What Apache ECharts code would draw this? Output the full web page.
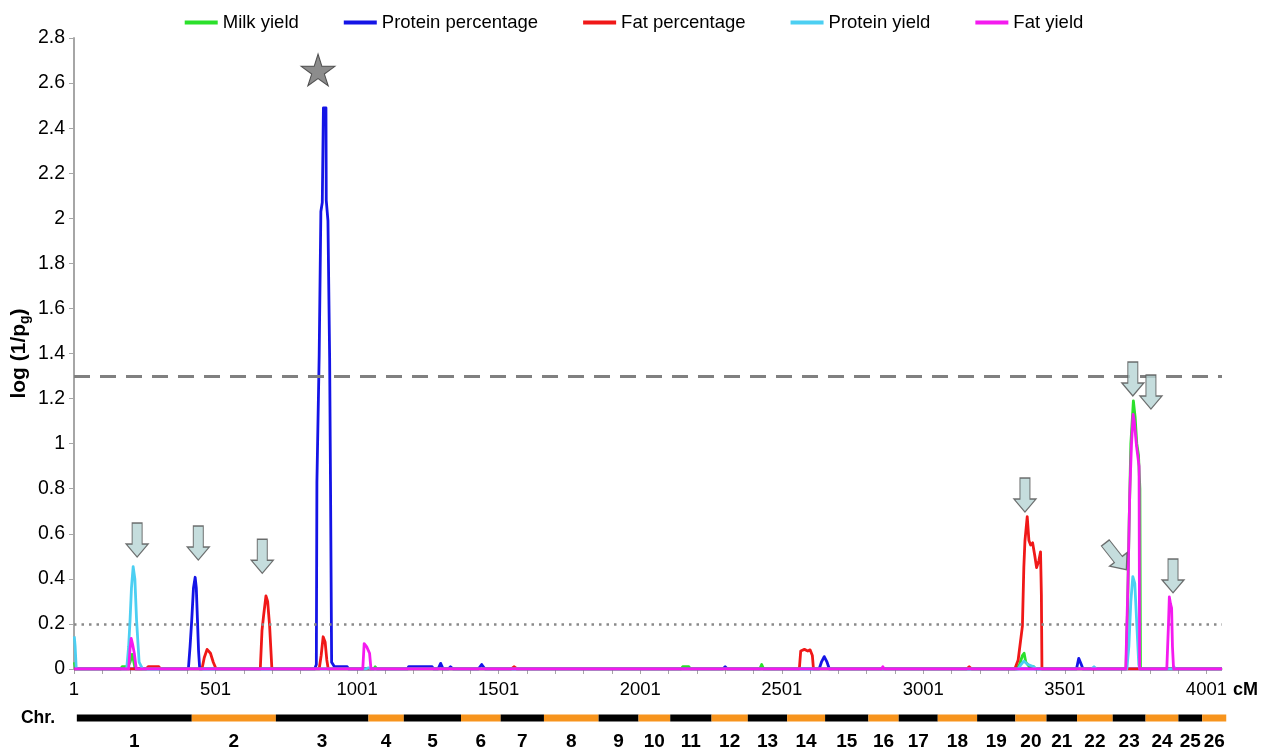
<!DOCTYPE html>
<html>
<head>
<meta charset="utf-8">
<title>log(1/pg) scan</title>
<script src="https://cdn.jsdelivr.net/npm/echarts@6/dist/echarts.min.js"></script>
<style>
    html, body { margin: 0; padding: 0; background: #fff; }
    #main { width: 1268px; height: 751px; }
</style>
</head>
<body>
<div id="main"></div>
<script>
// series names, legend order
var traitNames = ['Milk yield', 'Protein percentage', 'Fat percentage', 'Protein yield', 'Fat yield'];

// [cM, log(1/pg)]
var milkYield = [[1, 0.03], [6, 0], [165, 0], [170, 0.01], [181, 0.01], [190, 0.01], [198, 0.03], [205, 0.065], [210, 0.04], [216, 0],
    [1058, 0], [1064, 0.01], [1070, 0], [2144, 0], [2150, 0.01], [2172, 0.01], [2178, 0], [2422, 0], [2429, 0.02], [2436, 0],
    [3330, 0], [3340, 0.02], [3350, 0.06], [3356, 0.07], [3362, 0.03], [3375, 0.01], [3390, 0.01], [3395, 0],
    [3716, 0], [3722, 0.3], [3727, 0.65], [3733, 1.0], [3742, 1.19], [3748, 1.12], [3754, 1.0], [3760, 0.95], [3765, 0.8], [3767, 0], [4055, 0]];

var proteinPct = [[1, 0], [404, 0], [410, 0.1], [416, 0.22], [422, 0.36], [428, 0.407], [432, 0.36], [436, 0.22], [440, 0.08], [444, 0],
    [850, 0], [856, 0.02], [858, 0.83], [866, 1.39], [872, 2.03], [877, 2.07], [881, 2.49], [890, 2.49], [891, 2.08], [897, 1.99],
    [903, 1.38], [906, 0.83], [910, 0.03], [920, 0.01], [965, 0.01], [970, 0],
    [1178, 0], [1182, 0.01], [1265, 0.01], [1270, 0], [1286, 0], [1295, 0.025], [1304, 0], [1322, 0], [1330, 0.01], [1339, 0],
    [1428, 0], [1440, 0.02], [1452, 0], [2292, 0], [2300, 0.01], [2308, 0],
    [2632, 0], [2640, 0.03], [2650, 0.055], [2660, 0.03], [2668, 0], [3541, 0], [3549, 0.047], [3558, 0.02], [3564, 0], [4055, 0]];

var fatPct = [[1, 0], [255, 0], [262, 0.01], [300, 0.01], [306, 0], [452, 0], [460, 0.05], [470, 0.087], [482, 0.07], [492, 0.03], [502, 0],
    [658, 0], [664, 0.17], [670, 0.24], [678, 0.324], [684, 0.3], [691, 0.19], [699, 0],
    [866, 0], [873, 0.06], [880, 0.143], [887, 0.12], [893, 0.04], [898, 0], [1544, 0], [1554, 0.01], [1565, 0],
    [2562, 0], [2567, 0.08], [2580, 0.087], [2592, 0.08], [2600, 0.085], [2608, 0.06], [2612, 0], [3153, 0], [3162, 0.01], [3171, 0],
    [3323, 0], [3335, 0.04], [3350, 0.19], [3355, 0.45], [3359, 0.57], [3367, 0.676], [3373, 0.57], [3379, 0.55], [3386, 0.56],
    [3394, 0.5], [3400, 0.45], [3408, 0.48], [3414, 0.52], [3417, 0.33], [3419, 0], [4055, 0]];

var proteinYield = [[1, 0.145], [4, 0.1], [8, 0], [186, 0], [193, 0.1], [198, 0.217], [203, 0.36], [209, 0.454], [215, 0.4], [221, 0.217], [230, 0.03], [242, 0],
    [1030, 0], [1040, 0.005], [1050, 0], [3335, 0], [3345, 0.02], [3355, 0.035], [3370, 0.02], [3390, 0.01], [3400, 0],
    [3594, 0], [3603, 0.01], [3612, 0], [3719, 0], [3726, 0.1], [3733, 0.3], [3740, 0.41], [3747, 0.38], [3754, 0.2], [3761, 0.02], [3765, 0],
    [3880, 0], [3885, 0.01], [3890, 0], [4055, 0]];

var fatYield = [[1, 0], [193, 0], [198, 0.09], [202, 0.136], [207, 0.11], [213, 0.07], [220, 0],
    [1020, 0], [1025, 0.113], [1034, 0.098], [1044, 0.07], [1049, 0], [2852, 0], [2857, 0.01], [2862, 0],
    [3715, 0], [3723, 0.39], [3729, 0.77], [3735, 0.99], [3741, 1.13], [3745, 1.10], [3753, 0.99], [3757, 0.95], [3762, 0.9], [3764, 0],
    [3860, 0], [3866, 0.2], [3869, 0.32], [3873, 0.29], [3877, 0.27], [3880, 0.1], [3884, 0], [4055, 0]];

// significance thresholds
var thresholds = [1.3, 0.2];

// annotations (centre of each arrow / star, in data units)
var arrowsDown = [[223, 0.572], [439, 0.559], [665, 0.50], [3359, 0.772], [3740, 1.287], [3804, 1.229], [3882, 0.413]];
var arrowsTilted = [[3680, 0.50]];
var starMark = [[862, 2.658]];

// axis ticks
var xTickLabels = ['1', '501', '1001', '1501', '2001', '2501', '3001', '3501', '4001'];
var yMax = 2.8;

// chromosome map below the axis
var chrNames = ['1', '2', '3', '4', '5', '6', '7', '8', '9', '10', '11', '12', '13', '14', '15', '16', '17', '18', '19', '20', '21', '22', '23', '24', '25', '26'];
var chrBounds = [10, 416, 713, 1040, 1165, 1367, 1507, 1660, 1853, 1994, 2106, 2252, 2380, 2519, 2653, 2806, 2913, 3051, 3190, 3325, 3435, 3543, 3669, 3785, 3901, 3985, 4070];

var colors = ['#2BE02B', '#1414E6', '#F01818', '#4CCFF2', '#F41AEF'];
var FONT = '"Liberation Sans", Arial, sans-serif';
var arrowPath = 'path://M6,0H16V21H22L11,34L0,21H6Z';
var starPath = 'path://M50,0L61,35L98,35L68,57L79,91L50,70L21,91L32,57L2,35L39,35Z';

var myChart = echarts.init(document.getElementById('main'));

function lineSeries(name, data, i) {
    return {
        name: name,
        type: 'line',
        data: data,
        symbol: 'none',
        color: colors[i],
        lineStyle: { width: 2.8, color: colors[i], join: 'round' },
        z: 2 + i
    };
}

var series = [
    lineSeries(traitNames[0], milkYield, 0),
    lineSeries(traitNames[1], proteinPct, 1),
    lineSeries(traitNames[2], fatPct, 2),
    lineSeries(traitNames[3], proteinYield, 3),
    lineSeries(traitNames[4], fatYield, 4)
];

series[0].markLine = {
    silent: true,
    symbol: 'none',
    label: { show: false },
    data: [
        { yAxis: thresholds[0], lineStyle: { color: '#808080', width: 3, type: [16, 10] } },
        { yAxis: thresholds[1], lineStyle: { color: '#8a8a8a', width: 2.5, type: [2.5, 5] } }
    ]
};

series.push({
    type: 'scatter',
    data: arrowsDown,
    symbol: arrowPath,
    symbolSize: [22, 34],
    silent: true,
    itemStyle: { color: '#B6D4D5', borderColor: '#4d4d4d', borderWidth: 1.2 },
    z: 10
});
series.push({
    type: 'scatter',
    data: arrowsTilted,
    symbol: arrowPath,
    symbolSize: [22, 34],
    symbolRotate: 38,
    silent: true,
    itemStyle: { color: '#B6D4D5', borderColor: '#4d4d4d', borderWidth: 1.2 },
    z: 10
});
series.push({
    type: 'scatter',
    data: starMark,
    symbol: starPath,
    symbolSize: [34, 32],
    silent: true,
    itemStyle: { color: '#6f6f6f', borderColor: '#333', borderWidth: 1 },
    z: 10
});

// chromosome bar
series.push({
    type: 'custom',
    xAxisIndex: 1,
    yAxisIndex: 1,
    clip: false,
    silent: true,
    encode: { x: [0, 1], y: 2 },
    data: chrNames.map(function (n, i) { return [chrBounds[i], chrBounds[i + 1], 0]; }),
    renderItem: function (params, api) {
        var a = api.coord([api.value(0), 0]);
        var b = api.coord([api.value(1), 0]);
        var h = 7;
        return {
            type: 'group',
            children: [{
                type: 'rect',
                shape: { x: a[0], y: a[1] - h / 2, width: b[0] - a[0], height: h },
                style: { fill: params.dataIndex % 2 ? '#F7941D' : '#000' }
            }, {
                type: 'text',
                x: (a[0] + b[0]) / 2,
                y: a[1] + 24,
                style: {
                    text: chrNames[params.dataIndex],
                    align: 'center',
                    verticalAlign: 'middle',
                    font: 'bold 19px ' + FONT,
                    fill: '#000'
                }
            }]
        };
    }
});

var option = {
    animation: false,
    backgroundColor: '#fff',
    textStyle: { fontFamily: FONT },
    legend: {
        data: traitNames,
        top: 8,
        left: 'center',
        icon: 'rect',
        itemWidth: 33,
        itemHeight: 4,
        itemGap: 45,
        textStyle: { fontSize: 18.5, color: '#000', fontFamily: FONT }
    },
    grid: [
        { left: 74, right: 46, top: 38, bottom: 82, containLabel: false, outerBoundsMode: 'none' },
        { left: 74, right: 46, top: 712, height: 12, containLabel: false, outerBoundsMode: 'none' }
    ],
    xAxis: [{
        type: 'value',
        min: 0,
        max: 4055,
        interval: 100,
        name: 'cM',
        nameLocation: 'end',
        nameGap: 10,
        nameTextStyle: { fontWeight: 'bold', fontSize: 18, color: '#000', verticalAlign: 'top', padding: [12, 0, 0, 0] },
        axisLine: { lineStyle: { color: '#A6A6A6', width: 1.5 } },
        axisTick: { length: 5, lineStyle: { color: '#A6A6A6' } },
        splitLine: { show: false },
        axisLabel: {
            fontSize: 18.5,
            color: '#000',
            margin: 11,
            showMaxLabel: false,
            formatter: function (v) {
                return v % 500 === 0 ? xTickLabels[v / 500] : '';
            }
        }
    }, {
        gridIndex: 1,
        type: 'value',
        min: 0,
        max: 4055,
        show: false
    }],
    yAxis: [{
        type: 'value',
        min: 0,
        max: yMax,
        interval: 0.2,
        name: '{a|log (1/p}{b|g}{a|)}',
        nameLocation: 'middle',
        nameGap: 42,
        nameMoveOverlap: false,
        nameTextStyle: {
            rich: {
                a: { fontWeight: 'bold', fontSize: 21, color: '#000', fontFamily: FONT },
                b: { fontWeight: 'bold', fontSize: 14, color: '#000', fontFamily: FONT, padding: [11, 0, 0, 0] }
            }
        },
        axisLine: { show: true, lineStyle: { color: '#A6A6A6', width: 2 } },
        axisTick: { show: true, length: 5, lineStyle: { color: '#A6A6A6' } },
        splitLine: { show: false },
        axisLabel: { fontSize: 19.5, color: '#000', margin: 9 }
    }, {
        gridIndex: 1,
        type: 'category',
        data: ['Chr.'],
        axisLine: { show: false },
        axisTick: { show: false },
        axisLabel: { fontWeight: 'bold', fontSize: 17.5, color: '#000', margin: 19 }
    }],
    series: series
};

myChart.setOption(option);
</script>
</body>
</html>
